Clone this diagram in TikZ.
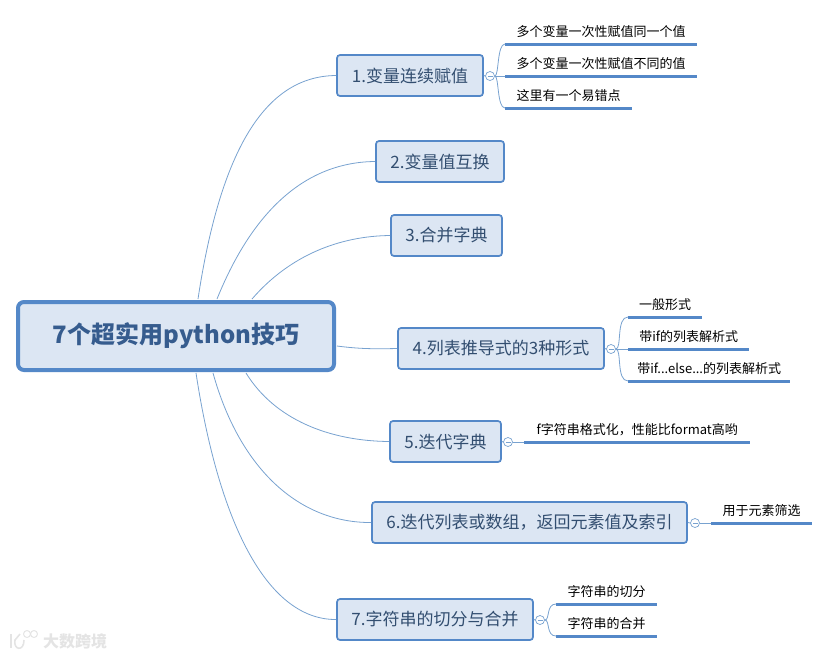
\documentclass[tikz,border=0pt]{standalone}
\usepackage{fontspec}
\setmainfont{Noto Sans CJK SC}
\usepackage{xcolor}
\definecolor{primary}{RGB}{84,136,200}
\definecolor{secondary}{RGB}{220,230,243}
\definecolor{branch}{RGB}{120,162,208}
\definecolor{ink}{RGB}{50,78,112}
\definecolor{rootink}{RGB}{54,92,142}
\definecolor{faded}{RGB}{228,228,228}
\tikzset{
  rootbox/.style={draw=primary,fill=secondary,line width=4pt,rounded corners=6pt,inner sep=0pt,text=rootink,font=\fontsize{24}{28}\selectfont\bfseries},
  topicbox/.style={draw=primary,fill=secondary,line width=1.7pt,rounded corners=3pt,inner sep=0pt,minimum height=41pt,text=ink,font=\fontsize{17}{20}\selectfont},
  leafbox/.style={anchor=south west,inner sep=0pt,minimum height=24pt,text=black,font=\fontsize{13}{16}\selectfont,
    append after command={(\tikzlastnode.south west) edge[leafline] (\tikzlastnode.south east)}},
  leafline/.style={draw=primary,line width=3pt},
  collapse/.style={circle,draw=branch,fill=white,line width=0.7pt,minimum size=9pt,inner sep=0pt,
    path picture={\draw[branch,line width=0.7pt] (path picture bounding box.center) ++(-2.5,0) -- ++(5,0);}},
  link/.style={draw=branch,line width=0.8pt}
}
\begin{document}
\begin{tikzpicture}[x=1pt,y=-1pt]
\useasboundingbox (0,0) rectangle (829,657);
% centre and topics
\node[rootbox,minimum width=316pt,minimum height=68pt] (root) at (176,336) {7个超实用python技巧};
\node[topicbox,minimum width=146pt] (t1) at (410,75.5) {1.变量连续赋值};
\node[topicbox,minimum width=128pt] (t2) at (440,161.5) {2.变量值互换};
\node[topicbox,minimum width=111pt] (t3) at (446.5,235.5) {3.合并字典};
\node[topicbox,minimum width=206pt] (t4) at (501,348.5) {4.列表推导式的3种形式};
\node[topicbox,minimum width=111pt] (t5) at (445.5,441.5) {5.迭代字典};
\node[topicbox,minimum width=315pt] (t6) at (529.5,522.5) {6.迭代列表或数组，返回元素值及索引};
\node[topicbox,minimum width=196pt] (t7) at (435,619.5) {7.字符串的切分与合并};
% collapse marks
\node[collapse] (c1) at (490,76) {};
\node[collapse] (c4) at (611,349) {};
\node[collapse] (c5) at (508,442) {};
\node[collapse] (c6) at (695,523) {};
\node[collapse] (c7) at (540,620) {};
% leaves
\node[leafbox,minimum width=192pt] (l1a) at (505,44) {多个变量一次性赋值同一个值};
\node[leafbox,minimum width=192pt] (l1b) at (505,76) {多个变量一次性赋值不同的值};
\node[leafbox,minimum width=127pt] (l1c) at (505,108) {这里有一个易错点};
\node[leafbox,minimum width=74pt] (l4a) at (628,317) {一般形式};
\node[leafbox,minimum width=121pt] (l4b) at (628,349) {带if的列表解析式};
\node[leafbox,minimum width=162pt] (l4c) at (628,381) {带if...else...的列表解析式};
\node[leafbox,minimum width=226pt] (l5a) at (524,442) {f字符串格式化，性能比format高哟};
\node[leafbox,minimum width=101pt] (l6a) at (711,523) {用于元素筛选};
\node[leafbox,minimum width=101pt] (l7a) at (556,604) {字符串的切分};
\node[leafbox,minimum width=101pt] (l7b) at (556,636) {字符串的合并};
% start points on the centre box
\coordinate (r1) at (198,299);
\coordinate (r2) at (217,299);
\coordinate (r3) at (252,299);
\coordinate (r4) at (337,346);
\coordinate (r5) at (246,373);
\coordinate (r6) at (213,373);
\coordinate (r7) at (196,373);
\draw[link] (r1) .. controls (222,140) and (270,76) .. (t1.west);
\draw[link] (r2) .. controls (255,205) and (310,162) .. (t2.west);
\draw[link] (r3) .. controls (290,255) and (340,236) .. (t3.west);
\draw[link] (r4) .. controls (360,349) and (375,349) .. (t4.west);
\draw[link] (r5) .. controls (275,420) and (330,441) .. (t5.west);
\draw[link] (r6) .. controls (240,470) and (300,523) .. (t6.west);
\draw[link] (r7) .. controls (220,530) and (270,620) .. (t7.west);
% topic to mark
\draw[link] (t1.east) -- (c1.west);
\draw[link] (t4.east) -- (c4.west);
\draw[link] (t5.east) -- (c5.west);
\draw[link] (t6.east) -- (c6.west);
\draw[link] (t7.east) -- (c7.west);
% mark to leaves
\draw[link] (c1.east) .. controls (499,76) and (497,44) .. (l1a.south west);
\draw[link] (c1.east) -- (l1b.south west);
\draw[link] (c1.east) .. controls (499,76) and (497,108) .. (l1c.south west);
\draw[link] (c4.east) .. controls (622,349) and (616,317) .. (l4a.south west);
\draw[link] (c4.east) -- (l4b.south west);
\draw[link] (c4.east) .. controls (622,349) and (616,381) .. (l4c.south west);
\draw[link] (c5.east) -- (l5a.south west);
\draw[link] (c6.east) -- (l6a.south west);
\draw[link] (c7.east) .. controls (550,620) and (546,604) .. (l7a.south west);
\draw[link] (c7.east) .. controls (550,620) and (546,636) .. (l7b.south west);
% watermark
\node[text=faded,font=\fontsize{16}{18}\selectfont\bfseries,inner sep=0pt] (wm) at (75,641) {大数跨境};
\draw[faded,line width=1.6pt] (11,634) -- (11,648);
\draw[faded,line width=1.6pt] (24,640) .. controls (24,652) and (13,650) .. (15,640) -- (20,634);
\node[circle,draw=faded,line width=1pt,minimum size=7pt,inner sep=0pt] (o1) at (27,634) {};
\node[circle,draw=faded,line width=1pt,minimum size=7pt,inner sep=0pt] (o2) at (34,634) {};
\end{tikzpicture}
\end{document}
